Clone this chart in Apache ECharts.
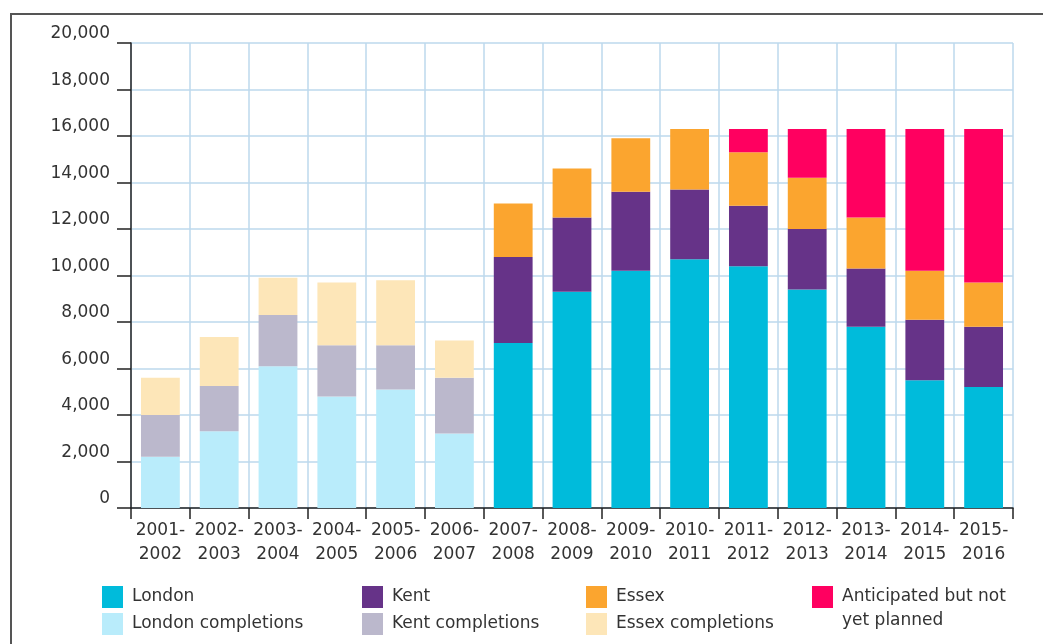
<!DOCTYPE html>
<html>
<head>
<meta charset="utf-8">
<script src="https://cdn.jsdelivr.net/npm/echarts@6/dist/echarts.min.js"></script>
<style>
  html, body { margin: 0; padding: 0; background: #fff; }
  #chart { width: 1043px; height: 644px; }
</style>
</head>
<body>
<div id="chart"></div>
<script>
// 年份
const years = ['2001-\n2002', '2002-\n2003', '2003-\n2004', '2004-\n2005', '2005-\n2006',
  '2006-\n2007', '2007-\n2008', '2008-\n2009', '2009-\n2010', '2010-\n2011',
  '2011-\n2012', '2012-\n2013', '2013-\n2014', '2014-\n2015', '2015-\n2016']

// completions (2001-2007)
const londonCompletions = [2200, 3300, 6100, 4800, 5100, 3200, null, null, null, null, null, null, null, null, null]
const kentCompletions = [1800, 1950, 2200, 2200, 1900, 2400, null, null, null, null, null, null, null, null, null]
const essexCompletions = [1600, 2100, 1600, 2700, 2800, 1600, null, null, null, null, null, null, null, null, null]

// planned (2007-2016)
const london = [null, null, null, null, null, null, 7100, 9300, 10200, 10700, 10400, 9400, 7800, 5500, 5200]
const kent = [null, null, null, null, null, null, 3700, 3200, 3400, 3000, 2600, 2600, 2500, 2600, 2600]
const essex = [null, null, null, null, null, null, 2300, 2100, 2300, 2600, 2300, 2200, 2200, 2100, 1900]
const anticipated = [null, null, null, null, null, null, null, null, null, null, 1000, 2100, 3800, 6100, 6600]

const FONT = 'DejaVu Sans'
const TXT = '#333'
const GRID_COLOR = '#bcd8ec'

function fmtNum (v) {
  return String(v).replace(/\B(?=(\d{3})+(?!\d))/g, ',')
}

function barSeries (name, data, color) {
  return {
    name: name,
    type: 'bar',
    stack: 'total',
    data: data,
    barCategoryGap: '34%',
    itemStyle: { color: color },
    emphasis: { disabled: true }
  }
}

// one legend per item, placed by hand
function legendItem (left, top, name) {
  return {
    left: left,
    top: top,
    padding: 0,
    data: [name],
    itemWidth: 21,
    itemHeight: 22,
    icon: 'rect',
    selectedMode: false,
    textStyle: {
      fontFamily: FONT,
      fontSize: 17,
      color: TXT,
      padding: [0, 0, 0, 4]
    }
  }
}

const ANT = 'Anticipated but not yet planned'

// empty first line pushes the two text lines down so the first sits beside the icon
let ant = legendItem(812, 561, ANT)
ant.formatter = function (n) { return '\nAnticipated but not\nyet planned' }
ant.textStyle.lineHeight = 24

const option = {
  backgroundColor: '#fff',
  animation: false,
  textStyle: { fontFamily: FONT },
  grid: { left: 131, right: 30, top: 43, bottom: 136 },
  legend: [
    legendItem(102, 586, 'London'),
    legendItem(102, 613, 'London completions'),
    legendItem(362, 586, 'Kent'),
    legendItem(362, 613, 'Kent completions'),
    legendItem(586, 586, 'Essex'),
    legendItem(586, 613, 'Essex completions'),
    ant
  ],
  graphic: [{
    type: 'rect',
    silent: true,
    shape: { x: 11, y: 14, width: 1200, height: 800 },
    style: { fill: 'none', stroke: '#555', lineWidth: 2 }
  }],
  xAxis: {
    type: 'category',
    data: years,
    axisLine: { lineStyle: { color: '#222', width: 1.5 } },
    axisTick: { show: true, length: 11, lineStyle: { color: '#222', width: 1.5 } },
    splitLine: { show: true, lineStyle: { color: GRID_COLOR, width: 1.5 } },
    axisLabel: {
      fontFamily: FONT,
      fontSize: 17,
      color: TXT,
      lineHeight: 24,
      margin: 11,
      interval: 0
    }
  },
  yAxis: {
    type: 'value',
    min: 0,
    max: 20000,
    interval: 2000,
    axisLine: { show: true, lineStyle: { color: '#222', width: 1.5 } },
    axisTick: { show: true, length: 14, lineStyle: { color: '#222', width: 1.5 } },
    splitLine: { show: true, lineStyle: { color: GRID_COLOR, width: 1.5 } },
    axisLabel: {
      fontFamily: FONT,
      fontSize: 17,
      color: TXT,
      margin: 21,
      verticalAlign: 'bottom',
      lineHeight: 18,
      formatter: fmtNum
    }
  },
  series: [
    barSeries('London completions', londonCompletions, '#b9ecfb'),
    barSeries('Kent completions', kentCompletions, '#bbb8cc'),
    barSeries('Essex completions', essexCompletions, '#fde6b8'),
    barSeries('London', london, '#00bbdb'),
    barSeries('Kent', kent, '#663388'),
    barSeries('Essex', essex, '#fba52f'),
    barSeries(ANT, anticipated, '#ff0060')
  ]
}

const myChart = echarts.init(document.getElementById('chart'))
myChart.setOption(option)
</script>
</body>
</html>
